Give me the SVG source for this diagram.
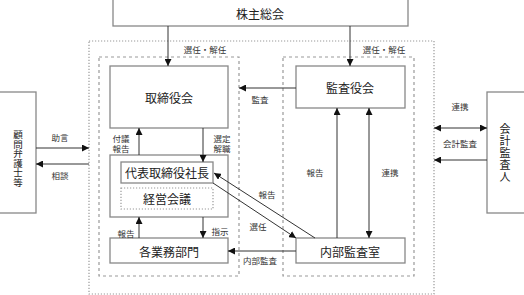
<svg xmlns="http://www.w3.org/2000/svg" width="524" height="295" viewBox="0 0 524 295">
<style>
  .box{fill:#fff;stroke:#888;stroke-width:1.3}
  .dotbox{fill:none;stroke:#999;stroke-width:1.2;stroke-dasharray:1.2 1.8}
  .dashbox{fill:none;stroke:#999;stroke-width:1.2;stroke-dasharray:3 3}
  .ln{fill:none;stroke:#333;stroke-width:1}
  text{font-family:"Noto Sans CJK JP","Noto Sans CJK SC",sans-serif;fill:#222;text-anchor:middle;dominant-baseline:central}
  .big{font-size:12px}
  .sm{font-size:8.5px;fill:#333}
  .vert{writing-mode:vertical-rl;text-anchor:start}
</style>
<defs>
  <marker id="ah" viewBox="0 0 8 8" refX="8" refY="4" markerWidth="7" markerHeight="7" markerUnits="userSpaceOnUse" orient="auto-start-reverse">
    <path d="M0,0 L8,4 L0,8 Z" fill="#111"/>
  </marker>
</defs>
<rect width="524" height="295" fill="#fff"/>
<g id="frames">
  <rect class="dotbox" x="89" y="41" width="345" height="253"/>
  <rect class="dashbox" x="99" y="57" width="140" height="219"/>
  <rect class="dashbox" x="283" y="57" width="131" height="219"/>
</g>
<g id="kabunushi">
  <rect class="box" x="113" y="-1" width="295" height="27"/>
  <text class="big" x="260" y="13">株主総会</text>
</g>
<g id="torishimariyakukai">
  <rect class="box" x="110" y="66" width="118" height="62"/>
  <text class="big" x="169" y="97">取締役会</text>
</g>
<g id="kansayakukai">
  <rect class="box" x="296" y="66" width="109" height="42"/>
  <text class="big" x="350" y="87">監査役会</text>
</g>
<g id="komon">
  <rect class="box" x="-1" y="92" width="37" height="121"/>
  <text class="vert" x="18" y="130" style="font-size:9.5px">顧問弁護士等</text>
</g>
<g id="kaikei">
  <rect class="box" x="487" y="92" width="38" height="121"/>
  <text class="vert" x="505" y="123" style="font-size:11px;letter-spacing:1px">会計監査人</text>
</g>
<g id="shacho-group">
  <rect class="box" x="110" y="155" width="118" height="62"/>
</g>
<g id="shacho">
  <rect class="box" x="121" y="162" width="92" height="21"/>
  <text class="big" x="167" y="172.5">代表取締役社長</text>
</g>
<g id="keiei">
  <rect class="dotbox" x="121" y="188" width="92" height="21"/>
  <text class="big" x="167" y="198.5">経営会議</text>
</g>
<g id="gyomu">
  <rect class="box" x="110" y="238" width="118" height="25"/>
  <text class="big" x="169" y="251">各業務部門</text>
</g>
<g id="naibu">
  <rect class="box" x="296" y="238" width="109" height="25"/>
  <text class="big" x="350" y="251">内部監査室</text>
</g>
<g id="connectors">
  <line class="ln" x1="168" y1="26" x2="168" y2="66" marker-end="url(#ah)"/>
  <line class="ln" x1="350" y1="26" x2="350" y2="66" marker-end="url(#ah)"/>
  <line class="ln" x1="296" y1="88" x2="239" y2="88" marker-end="url(#ah)"/>
  <line class="ln" x1="139" y1="155" x2="139" y2="128" marker-end="url(#ah)"/>
  <line class="ln" x1="203" y1="128" x2="203" y2="162" marker-end="url(#ah)"/>
  <line class="ln" x1="139" y1="238" x2="139" y2="217" marker-end="url(#ah)"/>
  <line class="ln" x1="203" y1="217" x2="203" y2="238" marker-end="url(#ah)"/>
  <line class="ln" x1="296" y1="251" x2="228" y2="251" marker-end="url(#ah)"/>
  <line class="ln" x1="337" y1="238" x2="337" y2="108" marker-end="url(#ah)"/>
  <line class="ln" x1="369" y1="108" x2="369" y2="238" marker-start="url(#ah)" marker-end="url(#ah)"/>
  <line class="ln" x1="315" y1="238" x2="214" y2="173" marker-end="url(#ah)"/>
  <line class="ln" x1="213" y1="183" x2="296" y2="238" marker-end="url(#ah)"/>
  <line class="ln" x1="36" y1="148" x2="89" y2="148" marker-end="url(#ah)"/>
  <line class="ln" x1="89" y1="164" x2="36" y2="164" marker-end="url(#ah)"/>
  <line class="ln" x1="434" y1="128" x2="487" y2="128" marker-start="url(#ah)" marker-end="url(#ah)"/>
  <line class="ln" x1="487" y1="160" x2="434" y2="160" marker-end="url(#ah)"/>
</g>
<g id="labels">
  <text class="sm" x="205" y="49">選任・解任</text>
  <text class="sm" x="384" y="49">選任・解任</text>
  <text class="sm" x="260" y="99">監査</text>
  <text class="sm" x="121" y="137.5">付議</text>
  <text class="sm" x="121" y="148">報告</text>
  <text class="sm" x="222" y="137.5">選定</text>
  <text class="sm" x="222" y="148">解職</text>
  <text class="sm" x="126" y="233">報告</text>
  <text class="sm" x="220" y="231">指示</text>
  <text class="sm" x="260" y="260">内部監査</text>
  <text class="sm" x="315" y="172">報告</text>
  <text class="sm" x="390" y="172">連携</text>
  <text class="sm" x="267" y="194">報告</text>
  <text class="sm" x="258" y="226">選任</text>
  <text class="sm" x="60" y="137">助言</text>
  <text class="sm" x="60" y="175">相談</text>
  <text class="sm" x="460" y="106">連携</text>
  <text class="sm" x="460" y="143">会計監査</text>
</g>
</svg>
